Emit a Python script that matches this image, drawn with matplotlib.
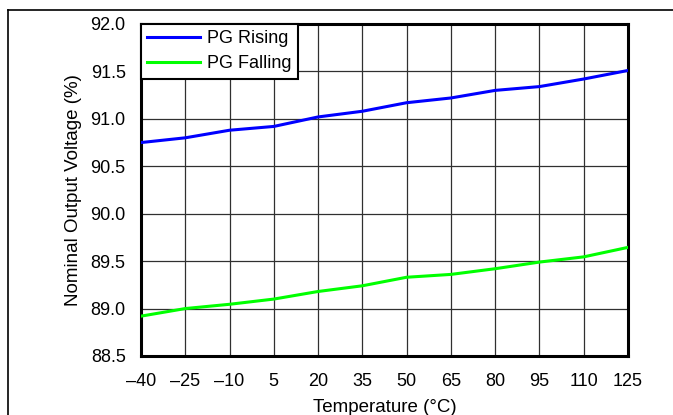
import matplotlib
matplotlib.use('Agg')
import matplotlib.pyplot as plt
from matplotlib.lines import Line2D

plt.rcParams['font.family'] = ['Liberation Sans', 'DejaVu Sans']

# data
temperature = [-40, -25, -10, 5, 20, 35, 50, 65, 80, 95, 110, 125]
pg_rising = [90.75, 90.80, 90.88, 90.92, 91.02, 91.08, 91.17, 91.22, 91.30, 91.34, 91.42, 91.51]
pg_falling = [88.92, 89.00, 89.045, 89.10, 89.18, 89.24, 89.33, 89.36, 89.42, 89.49, 89.545, 89.645]
x_ticks = [-40, -25, -10, 5, 20, 35, 50, 65, 80, 95, 110, 125]
y_ticks = [88.5, 89.0, 89.5, 90.0, 90.5, 91.0, 91.5, 92.0]

fig = plt.figure(figsize=(6.73, 4.15), dpi=100)
ax = fig.add_axes([0.2095, 0.1422, 0.7236, 0.8000])

ax.plot(temperature, pg_rising, color='#0000ff', lw=2.2, label='PG Rising', zorder=3)
ax.plot(temperature, pg_falling, color='#00ff00', lw=2.2, label='PG Falling', zorder=3)

ax.set_xlim(-40, 125)
ax.set_ylim(88.5, 92.0)
ax.set_xticks(x_ticks)
ax.set_xticklabels([str(t).replace('-', '\u2013') for t in x_ticks])
ax.set_yticks(y_ticks)
ax.set_yticklabels(['%.1f' % v for v in y_ticks])
ax.tick_params(length=0, labelsize=13)
ax.tick_params(axis='x', pad=12)
ax.tick_params(axis='y', pad=11)
ax.grid(True, color='#303030', lw=0.9)
for s in ax.spines.values():
    s.set_linewidth(2.2)
    s.set_color('black')

ax.set_xlabel('Temperature (°C)', fontsize=13.5, labelpad=7)
ax.set_ylabel('Nominal Output Voltage (%)', fontsize=13.5, labelpad=6)

leg = ax.legend(loc='upper left', fontsize=13, frameon=True, fancybox=False,
                borderaxespad=0, handlelength=2.9, handletextpad=0.4,
                borderpad=0.35, labelspacing=0.45)
leg.get_frame().set_edgecolor('black')
leg.get_frame().set_linewidth(1.5)
leg.get_frame().set_alpha(1)

# outer frame lines of the figure
fig.add_artist(Line2D([8 / 673, 8 / 673], [0, 1 - 10 / 415], color='black', lw=1.2))
fig.add_artist(Line2D([8 / 673, 1], [1 - 10 / 415, 1 - 10 / 415], color='black', lw=1.2))

plt.savefig('out.png', dpi=100)
